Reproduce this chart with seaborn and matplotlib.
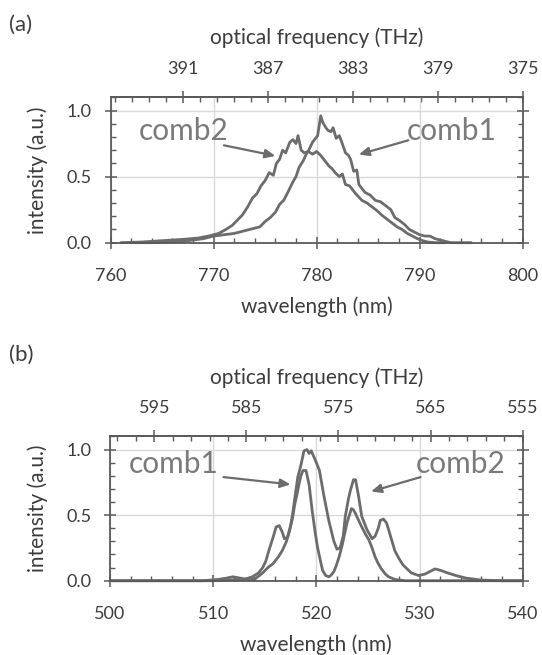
import matplotlib
matplotlib.use("Agg")
import matplotlib.pyplot as plt
from matplotlib.ticker import MultipleLocator, FormatStrFormatter
import pandas as pd
import seaborn as sns

sns.set_theme(style="white")
plt.rcParams["font.family"] = ["Lato", "DejaVu Sans"]

# ---- (a) spectra around 780 nm ----
wl_a_comb1 = [762, 764, 766, 767, 768, 769, 770, 771, 772, 773,
              774, 774.5, 775, 775.5, 776, 776.4, 776.8, 777.2, 777.7, 778.0,
              778.3, 778.7, 779.0, 779.3, 779.6, 779.9, 780.1, 780.4, 780.6, 780.9,
              781.1, 781.4, 781.6, 781.9, 782.2, 782.4, 782.8, 783.1, 783.3, 783.6,
              783.9, 784.1, 784.4, 784.7, 785.2, 785.7, 786.2, 786.7, 787.2, 787.6,
              788.0, 788.5, 789.0, 789.5, 790.0, 790.5, 791.0, 791.5, 792.0, 792.5,
              793.0, 794.0, 795.0]
int_a_comb1 = [0.0, 0.0, 0.005, 0.01, 0.02, 0.03, 0.05, 0.06, 0.07, 0.09,
               0.11, 0.12, 0.16, 0.19, 0.23, 0.29, 0.32, 0.38, 0.46, 0.50,
               0.57, 0.62, 0.67, 0.71, 0.76, 0.79, 0.81, 0.96, 0.91, 0.87,
               0.85, 0.84, 0.87, 0.79, 0.81, 0.77, 0.68, 0.66, 0.63, 0.54,
               0.55, 0.44, 0.41, 0.38, 0.36, 0.32, 0.31, 0.28, 0.25, 0.19,
               0.17, 0.14, 0.10, 0.08, 0.06, 0.05, 0.05, 0.03, 0.02, 0.01,
               0.0, 0.0, 0.0]

wl_a_comb2 = [761, 763, 765, 767, 768.5, 769.5, 770.5, 771.2, 771.8, 772.3,
              772.8, 773.3, 773.8, 774.2, 774.6, 775.0, 775.4, 775.8, 776.1, 776.4,
              776.7, 777.0, 777.4, 777.7, 778.0, 778.2, 778.5, 778.8, 779.2, 779.6,
              780.0, 780.4, 780.9, 781.2, 781.5, 781.8, 782.2, 782.5, 782.8, 783.2,
              783.8, 784.4, 784.9, 785.4, 785.9, 786.3, 786.8, 787.3, 787.8, 788.3,
              788.8, 789.3, 789.8, 790.3, 790.8, 791.5, 792.5]
int_a_comb2 = [0.0, 0.005, 0.015, 0.025, 0.035, 0.05, 0.07, 0.10, 0.13, 0.17,
               0.21, 0.27, 0.34, 0.37, 0.43, 0.47, 0.53, 0.51, 0.60, 0.63,
               0.70, 0.68, 0.76, 0.78, 0.75, 0.81, 0.70, 0.68, 0.69, 0.67,
               0.69, 0.66, 0.61, 0.58, 0.56, 0.53, 0.50, 0.52, 0.44, 0.43,
               0.37, 0.32, 0.30, 0.27, 0.24, 0.21, 0.18, 0.15, 0.12, 0.10,
               0.07, 0.05, 0.03, 0.015, 0.005, 0.0, 0.0]

# ---- (b) spectra around 520 nm ----
wl_b_comb1 = [500, 505, 510, 511.5, 513, 513.8, 514.4, 514.8, 515.1, 515.4,
              515.8, 516.1, 516.4, 516.7, 516.9, 517.2, 517.5, 517.7, 518.0, 518.2,
              518.5, 518.8, 519.1, 519.3, 519.5, 519.9, 520.3, 520.7, 521.2, 521.7,
              522.0, 522.3, 522.6, 522.8, 523.1, 523.3, 523.6, 523.8, 524.1, 524.4,
              524.9, 525.4, 525.7, 526.0, 526.2, 526.5, 526.8, 527.0, 527.6, 528.0,
              528.4, 529.2, 529.9, 530.5, 531.0, 531.5, 532.0, 532.7, 533.5, 534.5,
              536, 538, 540]
int_b_comb1 = [0.0, 0.0, 0.0, 0.005, 0.01, 0.03, 0.06, 0.10, 0.15, 0.23,
               0.33, 0.41, 0.42, 0.37, 0.32, 0.33, 0.42, 0.51, 0.68, 0.79,
               0.88, 0.99, 1.0, 0.97, 0.99, 0.92, 0.84, 0.66, 0.46, 0.30,
               0.24, 0.25, 0.34, 0.49, 0.62, 0.69, 0.77, 0.77, 0.64, 0.49,
               0.39, 0.32, 0.34, 0.40, 0.46, 0.47, 0.44, 0.39, 0.23, 0.17,
               0.12, 0.06, 0.04, 0.05, 0.07, 0.09, 0.08, 0.06, 0.04, 0.02,
               0.005, 0.0, 0.0]

wl_b_comb2 = [500, 505, 509, 510.5, 511.3, 511.9, 512.6, 513.3, 514.0, 514.8,
              515.3, 515.8, 516.3, 516.7, 517.1, 517.4, 517.7, 517.9, 518.1, 518.3,
              518.5, 518.7, 519.0, 519.3, 519.6, 519.9, 520.1, 520.4, 520.6, 520.9,
              521.2, 521.4, 521.7, 521.9, 522.2, 522.5, 522.8, 523.0, 523.4, 523.6,
              523.8, 524.1, 524.4, 524.8, 525.1, 525.4, 525.7, 526.0, 526.3, 526.7,
              527.0, 527.6, 528.6, 530, 535, 540]
int_b_comb2 = [0.0, 0.0, 0.0, 0.01, 0.02, 0.03, 0.02, 0.01, 0.01, 0.06,
               0.10, 0.13, 0.18, 0.23, 0.30, 0.38, 0.48, 0.58, 0.65, 0.73,
               0.80, 0.84, 0.84, 0.73, 0.53, 0.36, 0.26, 0.15, 0.08, 0.04,
               0.03, 0.04, 0.07, 0.11, 0.18, 0.27, 0.38, 0.45, 0.55, 0.54,
               0.51, 0.46, 0.41, 0.35, 0.31, 0.25, 0.18, 0.13, 0.09, 0.05,
               0.03, 0.01, 0.0, 0.0, 0.0, 0.0]

# wavelength axis ranges and the linear frequency scale used on the top axis
xlim_a, xlim_b = (760, 800), (500, 540)
freq_a = dict(f0=375.0, w0=800.0, k=0.485, major=4, minor=0.8)
freq_b = dict(f0=555.0, w0=540.0, k=1.12, major=10, minor=2)

LINE = "#6c6c6c"
SPINE = "#5a5a5a"
TEXT = "#3c3c3c"
NOTE = "#7a7a7a"
GRID = "#d9d9d9"
TICK_FS = 13
LABEL_FS = 15


def frame(wl1, i1, wl2, i2):
    d1 = pd.DataFrame({"wavelength": wl1, "intensity": i1, "comb": "comb1"})
    d2 = pd.DataFrame({"wavelength": wl2, "intensity": i2, "comb": "comb2"})
    return pd.concat([d1, d2], ignore_index=True)


def style(ax, xlim, fq):
    ax.set_xlim(*xlim)
    ax.set_ylim(0, 1.1)
    ax.xaxis.set_major_locator(MultipleLocator(10))
    ax.xaxis.set_minor_locator(MultipleLocator(2))
    ax.yaxis.set_major_locator(MultipleLocator(0.5))
    ax.yaxis.set_minor_locator(MultipleLocator(0.1))
    ax.yaxis.set_major_formatter(FormatStrFormatter("%.1f"))
    ax.grid(True, which="major", color=GRID, lw=1.0)
    ax.set_axisbelow(True)
    for s in ax.spines.values():
        s.set_color(SPINE)
        s.set_linewidth(1.3)
    ax.tick_params(which="major", direction="inout", length=9, width=1.1,
                   color=SPINE, labelsize=TICK_FS, labelcolor=TEXT,
                   left=True, right=True, bottom=True, top=False)
    ax.tick_params(which="minor", direction="in", length=3.5, width=1.0,
                   color=SPINE, left=True, right=True, bottom=True, top=False)
    ax.tick_params(axis="x", which="major", pad=14)
    ax.tick_params(axis="y", which="major", pad=9)

    f0, w0, k = fq["f0"], fq["w0"], fq["k"]
    sec = ax.secondary_xaxis("top", functions=(lambda w: f0 + k * (w0 - w),
                                               lambda f: w0 - (f - f0) / k))
    sec.xaxis.set_major_locator(MultipleLocator(fq["major"], offset=f0))
    sec.xaxis.set_minor_locator(MultipleLocator(fq["minor"], offset=f0))
    sec.xaxis.set_major_formatter(FormatStrFormatter("%d"))
    sec.spines["top"].set_color(SPINE)
    sec.spines["top"].set_linewidth(1.3)
    sec.tick_params(which="major", direction="inout", length=9, width=1.1,
                    color=SPINE, labelsize=TICK_FS, labelcolor=TEXT, pad=10)
    sec.tick_params(which="minor", direction="in", length=3.5, width=1.0,
                    color=SPINE)

    ax.text(0.5, 1.41, "optical frequency (THz)", transform=ax.transAxes,
            ha="center", va="center", fontsize=LABEL_FS, color=TEXT)
    ax.set_xlabel("wavelength (nm)", fontsize=LABEL_FS, color=TEXT, va="center")
    ax.xaxis.set_label_coords(0.5, -0.44)
    ax.set_ylabel("intensity (a.u.)", fontsize=LABEL_FS, color=TEXT, va="center")
    ax.yaxis.set_label_coords(-0.176, 0.5)


def note(ax, label, text_xy, tail, tip):
    ax.text(*text_xy, label, ha="center", va="baseline", fontsize=21.5, color=NOTE)
    ax.annotate("", xy=tip, xytext=tail,
                arrowprops=dict(arrowstyle="-|>,head_length=0.5,head_width=0.22",
                                color=LINE, lw=1.6, shrinkA=0, shrinkB=0))


fig = plt.figure(figsize=(5.42, 6.55), dpi=100)
ax_a = fig.add_axes([0.2039, 0.6295, 0.7605, 0.2219])
ax_b = fig.add_axes([0.2030, 0.1134, 0.7614, 0.2203])

pal = {"comb1": LINE, "comb2": LINE}
for ax, df, xl, fq in [
    (ax_a, frame(wl_a_comb1, int_a_comb1, wl_a_comb2, int_a_comb2), xlim_a, freq_a),
    (ax_b, frame(wl_b_comb1, int_b_comb1, wl_b_comb2, int_b_comb2), xlim_b, freq_b),
]:
    sns.lineplot(data=df, x="wavelength", y="intensity", hue="comb",
                 palette=pal, estimator=None, sort=False, legend=False,
                 linewidth=2.0, ax=ax, clip_on=False)
    style(ax, xl, fq)

note(ax_a, "comb2", (767.1, 0.78), (771.0, 0.737), (776.0, 0.657))
note(ax_a, "comb1", (793.1, 0.78), (788.9, 0.775), (784.1, 0.667))
note(ax_b, "comb1", (506.2, 0.82), (511.0, 0.79), (517.5, 0.734))
note(ax_b, "comb2", (534.0, 0.82), (530.1, 0.79), (525.3, 0.68))

fig.text(8.7 / 542, 1 - 25 / 655, "(a)", ha="left", va="center", fontsize=16, color=TEXT)
fig.text(8.7 / 542, 1 - 355 / 655, "(b)", ha="left", va="center", fontsize=16, color=TEXT)

fig.savefig("out.png", dpi=100)
